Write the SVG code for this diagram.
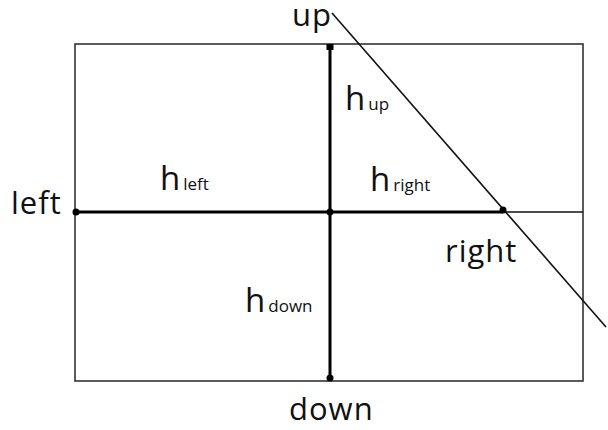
<svg xmlns="http://www.w3.org/2000/svg" width="608" height="430" viewBox="0 0 608 430">
<style>
.frame{fill:none;stroke:#333;stroke-width:1.6}
.thick{stroke:#000;stroke-width:3;fill:none}
.thin{stroke:#111;stroke-width:1.6;fill:none}
.dot{fill:#000}
.lbl{font-family:"Open Sans","Liberation Sans",sans-serif;font-size:31px;fill:#111;letter-spacing:1px}
.h{font-family:"Open Sans","Liberation Sans",sans-serif;font-size:33px;fill:#111}
.sub{font-family:"Open Sans","Liberation Sans",sans-serif;font-size:17px;fill:#111}
</style>
<rect width="608" height="430" fill="#fff"/>
<g id="frame"><rect class="frame" x="75" y="44" width="508" height="337"/></g>
<g id="connectors">
<line class="thick" x1="330" y1="47" x2="330" y2="378"/>
<line class="thick" x1="76" y1="212" x2="503" y2="212"/>
<line class="thin" x1="503" y1="212" x2="583" y2="212"/>
<line class="thin" x1="332" y1="13" x2="606" y2="327"/>
</g>
<g id="up"><rect class="dot" x="326.5" y="44" width="7" height="6"/><text class="lbl" x="292" y="26">up</text></g>
<g id="left"><circle class="dot" cx="76" cy="212" r="3.5"/><text class="lbl" x="11" y="214">left</text></g>
<g id="center"><circle class="dot" cx="330" cy="212" r="3.5"/></g>
<g id="right"><circle class="dot" cx="503" cy="210" r="3.5"/><text class="lbl" x="445" y="262">right</text></g>
<g id="down"><circle class="dot" cx="330" cy="378" r="3.5"/><text class="lbl" x="289" y="420">down</text></g>
<g id="h-up"><text x="345" y="110"><tspan class="h">h</tspan><tspan class="sub" dx="3">up</tspan></text></g>
<g id="h-left"><text x="160" y="190"><tspan class="h">h</tspan><tspan class="sub" dx="3">left</tspan></text></g>
<g id="h-right"><text x="370" y="191"><tspan class="h">h</tspan><tspan class="sub" dx="3">right</tspan></text></g>
<g id="h-down"><text x="245" y="312"><tspan class="h">h</tspan><tspan class="sub" dx="3">down</tspan></text></g>
</svg>
